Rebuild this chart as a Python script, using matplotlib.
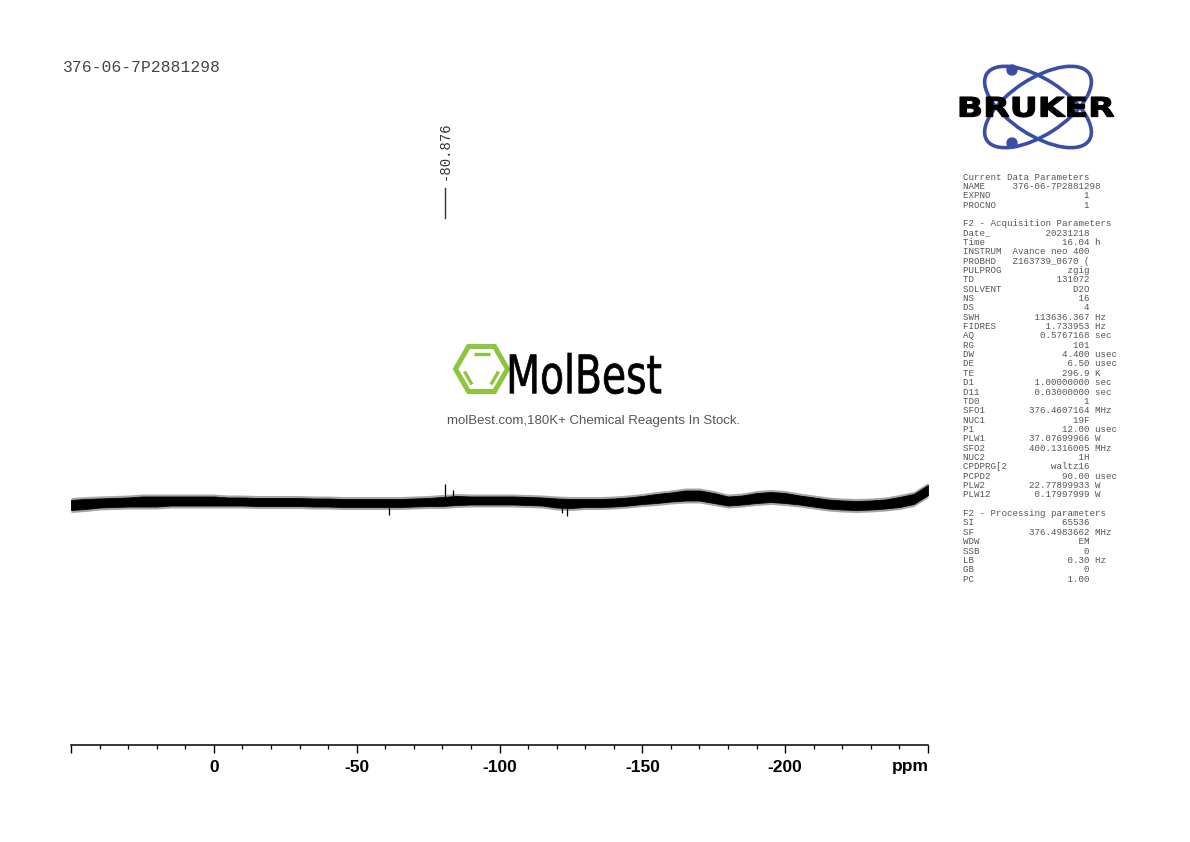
import matplotlib
matplotlib.use('Agg')
import matplotlib.pyplot as plt
import numpy as np
from matplotlib.patches import Ellipse, Circle, PathPatch, Polygon
from matplotlib.textpath import TextPath
from matplotlib.font_manager import FontProperties
from matplotlib.transforms import Affine2D, blended_transform_factory
from matplotlib.ticker import MultipleLocator

# ---- spectrum (19F) ----
ppm = [50, 45, 40, 35, 30, 25, 20, 15, 10, 5, 0, -5, -10, -15, -20, -25, -30, -35, -40, -45,
       -50, -55, -60, -65, -70, -75, -80, -85, -90, -95, -100, -105, -110, -115, -120, -125,
       -130, -135, -140, -145, -150, -155, -160, -165, -170, -175, -180, -185, -190, -195,
       -200, -205, -210, -215, -220, -225, -230, -235, -240, -245, -250]
baseline = [240, 241, 242, 242.5, 243, 243.5, 243.5, 244, 244, 244, 244, 243.5, 243.5, 243, 243,
            243, 243, 242.5, 242.5, 242, 242, 242, 242, 242, 242.5, 243, 243.5, 244.5, 244.5,
            244.5, 244.5, 244.5, 244, 243.5, 242, 241.5, 242, 242, 242.5, 243.5, 245, 246.5,
            248, 249.5, 249.5, 247, 244, 245, 247, 248, 247, 245, 243, 241, 240, 239.5, 240,
            241, 243, 246, 255]
noise = [5, 5, 4.5, 4.5, 4.5, 5, 5, 4.5, 4.5, 4.5, 4.5,
         4, 4, 4, 4, 4, 4, 4, 4, 4, 4,
         4, 4, 4, 4, 4, 4.5, 4.5, 4, 4, 4,
         4, 4, 4, 4.5, 4.5, 4, 4, 4, 4, 4,
         4.5, 4.5, 5, 5, 5, 4.5, 4.5, 5, 5, 5,
         4.5, 4.5, 4.5, 4.5, 4.5, 4.5, 4.5, 5, 5, 5]
spike_ppm = [-61.3, -80.876, -83.6, -122.0, -123.5]
spike_lo = [230, 244, 244, 232, 229]
spike_hi = [243, 261, 255, 243, 243]
peak_label = -80.876

tick_pos = [50, 0, -50, -100, -150, -200, -250]
tick_lab = ['', '0', '-50', '-100', '-150', '-200', '']

title = '376-06-7P2881298'

params = [
    ('Current Data Parameters', None, None),
    ('NAME', '376-06-7P2881298', ''),
    ('EXPNO', '1', ''),
    ('PROCNO', '1', ''),
    ('', None, None),
    ('F2 - Acquisition Parameters', None, None),
    ('Date_', '20231218', ''),
    ('Time', '16.04', 'h'),
    ('INSTRUM', 'Avance neo 400', ''),
    ('PROBHD', 'Z163739_0670 (', ''),
    ('PULPROG', 'zgig', ''),
    ('TD', '131072', ''),
    ('SOLVENT', 'D2O', ''),
    ('NS', '16', ''),
    ('DS', '4', ''),
    ('SWH', '113636.367', 'Hz'),
    ('FIDRES', '1.733953', 'Hz'),
    ('AQ', '0.5767168', 'sec'),
    ('RG', '101', ''),
    ('DW', '4.400', 'usec'),
    ('DE', '6.50', 'usec'),
    ('TE', '296.9', 'K'),
    ('D1', '1.00000000', 'sec'),
    ('D11', '0.03000000', 'sec'),
    ('TD0', '1', ''),
    ('SFO1', '376.4607164', 'MHz'),
    ('NUC1', '19F', ''),
    ('P1', '12.00', 'usec'),
    ('PLW1', '37.07699966', 'W'),
    ('SFO2', '400.1316005', 'MHz'),
    ('NUC2', '1H', ''),
    ('CPDPRG[2', 'waltz16', ''),
    ('PCPD2', '90.00', 'usec'),
    ('PLW2', '22.77899933', 'W'),
    ('PLW12', '0.17997999', 'W'),
    ('', None, None),
    ('F2 - Processing parameters', None, None),
    ('SI', '65536', ''),
    ('SF', '376.4983662', 'MHz'),
    ('WDW', 'EM', ''),
    ('SSB', '0', ''),
    ('LB', '0.30', 'Hz'),
    ('GB', '0', ''),
    ('PC', '1.00', ''),
]


def fit_text(axo, s, x0, x1, y0, y1, color, fp, lw=0):
    tp = TextPath((0, 0), s, size=100, prop=fp)
    bb = tp.get_extents()
    tr = (Affine2D().translate(-bb.x0, -bb.y0)
          .scale((x1 - x0) / bb.width, -(y1 - y0) / bb.height)
          .translate(x0, y1))
    axo.add_patch(PathPatch(tr.transform_path(tp), fc=color, ec=color, lw=lw, zorder=5))


fig = plt.figure(figsize=(11.9, 8.42), dpi=100)

# overlay in pixel coordinates
ov = fig.add_axes([0, 0, 1, 1])
ov.set_xlim(0, 1190)
ov.set_ylim(842, 0)
ov.axis('off')

ax = fig.add_axes([71 / 1190, 97 / 842, 857 / 1190, 645 / 842])
ax.patch.set_alpha(0)
ax.set_xlim(50, -250)
ax.set_ylim(0, 645)
for s in ['left', 'right', 'top']:
    ax.spines[s].set_visible(False)
ax.spines['bottom'].set_linewidth(1.1)
ax.set_yticks([])
ax.set_xticks(tick_pos)
ax.set_xticklabels(tick_lab)
ax.xaxis.set_minor_locator(MultipleLocator(10))
ax.tick_params(axis='x', which='major', direction='out', length=6, width=1.0, pad=5,
               labelsize=12.5)
ax.tick_params(axis='x', which='minor', direction='out', length=3, width=0.9)
for t in ax.get_xticklabels():
    t.set_fontweight('bold')
    t.set_family('Liberation Sans')
ov.text(929, 766, 'ppm', ha='right', va='center', fontsize=12.5, fontweight='bold',
        family='Liberation Sans')

x = np.array(ppm)
c = np.array(baseline)
hw = np.array(noise)
# faint fringe for the noise hairs, solid core
ax.fill_between(x, c - hw - 2.5, c + hw + 2.5, color='black', alpha=0.35, lw=0)
ax.fill_between(x, c - hw, c + hw, color='black', lw=0.6)
ax.vlines(spike_ppm, spike_lo, spike_hi, color='black', lw=0.9)

# peak label
bt = blended_transform_factory(ax.transData, ov.transData)
ax.text(peak_label, 151, '%.3f' % peak_label, transform=bt, rotation=90, ha='center',
        va='center', family='Liberation Mono', fontsize=10, color='#333333')
ax.plot([peak_label, peak_label], [188, 218], transform=bt, color='#333333', lw=1,
        clip_on=False)

# title
ov.text(63, 68, title, family='Liberation Mono', fontsize=11.8, color='#444444',
        va='center', ha='left')

# parameter block
for i, (name, val, unit) in enumerate(params):
    if val is None:
        line = name
    else:
        line = '%-9s%14s %s' % (name, val, unit)
    ov.text(963, 177 + i * 9.35, line, family='Liberation Mono', fontsize=6.6,
            color='#555555', va='center', ha='left')

# Bruker logo
blue = '#3b4ea6'
ov.add_patch(Ellipse((1038, 107), 122, 56, angle=33, fill=False, ec=blue, lw=2.6))
ov.add_patch(Ellipse((1038, 107), 122, 56, angle=-33, fill=False, ec=blue, lw=2.6))
ov.add_patch(Circle((1012, 70), 5, color=blue))
ov.add_patch(Circle((1012, 143), 5, color=blue))
fit_text(ov, 'BRUKER', 960, 1114, 97, 117, 'black',
         FontProperties(family='DejaVu Sans', weight='bold'), lw=0.8)

# MolBest watermark
green = '#8cc63f'
cx, cy, r = 481.5, 369, 26
ang = np.radians(np.arange(0, 360, 60))
ov.add_patch(Polygon(np.column_stack([cx + r * np.cos(ang), cy + r * np.sin(ang)]),
                     closed=True, fill=False, ec=green, lw=3.6, joinstyle='miter'))
ov.plot([473.5, 489.5], [354, 354], color=green, lw=2.4, solid_capstyle='butt')
ov.plot([464.5, 472], [371.5, 384.5], color=green, lw=2.4, solid_capstyle='butt')
ov.plot([491, 498.5], [384.5, 371.5], color=green, lw=2.4, solid_capstyle='butt')
fit_text(ov, 'MolBest', 510, 661, 353, 394, 'black',
         FontProperties(family='DejaVu Sans'), lw=0.5)
ov.text(594, 421, 'molBest.com,180K+ Chemical Reagents In Stock.', ha='center',
        va='center', fontsize=9.5, color='#555555', family='Liberation Sans')

fig.savefig('out.png', dpi=100)
